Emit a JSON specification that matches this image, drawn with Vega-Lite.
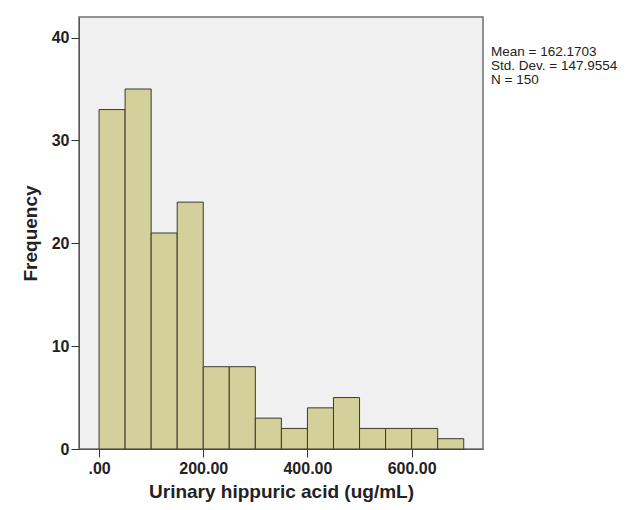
{
  "$schema": "https://vega.github.io/schema/vega-lite/v6.json",
  "autosize": "none",
  "width": 404,
  "height": 432,
  "padding": {"left": 79, "top": 17, "right": 152, "bottom": 61},
  "background": "white",
  "config": {
    "font": "Liberation Sans",
    "view": {"fill": "#f0f0f0", "stroke": "#707070", "strokeWidth": 1.5}
  },
  "layer": [
    {
      "data": {
        "values": [
          {"bin_start": 0, "bin_end": 50, "count": 33},
          {"bin_start": 50, "bin_end": 100, "count": 35},
          {"bin_start": 100, "bin_end": 150, "count": 21},
          {"bin_start": 150, "bin_end": 200, "count": 24},
          {"bin_start": 200, "bin_end": 250, "count": 8},
          {"bin_start": 250, "bin_end": 300, "count": 8},
          {"bin_start": 300, "bin_end": 350, "count": 3},
          {"bin_start": 350, "bin_end": 400, "count": 2},
          {"bin_start": 400, "bin_end": 450, "count": 4},
          {"bin_start": 450, "bin_end": 500, "count": 5},
          {"bin_start": 500, "bin_end": 550, "count": 2},
          {"bin_start": 550, "bin_end": 600, "count": 2},
          {"bin_start": 600, "bin_end": 650, "count": 2},
          {"bin_start": 650, "bin_end": 700, "count": 1}
        ]
      },
      "mark": {"type": "bar", "fill": "#d4d09b", "stroke": "#3a3a30", "strokeWidth": 1, "opacity": 1},
      "encoding": {
        "x": {
          "field": "bin_start",
          "type": "quantitative",
          "scale": {"domain": [-38.5, 737], "nice": false, "zero": false},
          "axis": {
            "values": [0, 200, 400, 600],
            "labelExpr": "datum.value == 0 ? '.00' : format(datum.value, '.2f')",
            "grid": false,
            "tickSize": 8,
            "tickColor": "#333333",
            "domainColor": "#555555",
            "labelFontSize": 16,
            "labelFontWeight": "bold",
            "labelColor": "#222222",
            "labelPadding": 3,
            "title": "Urinary hippuric acid (ug/mL)",
            "titleFontSize": 19,
            "titleFontWeight": "bold",
            "titleColor": "#222222",
            "titlePadding": 6
          }
        },
        "x2": {"field": "bin_end"},
        "y": {
          "field": "count",
          "type": "quantitative",
          "scale": {"domain": [0, 42], "nice": false},
          "axis": {
            "values": [0, 10, 20, 30, 40],
            "grid": false,
            "tickSize": 8,
            "tickColor": "#333333",
            "domainColor": "#555555",
            "labelFontSize": 16,
            "labelFontWeight": "bold",
            "labelColor": "#222222",
            "labelPadding": 2,
            "title": "Frequency",
            "titleFontSize": 19,
            "titleFontWeight": "bold",
            "titleColor": "#222222",
            "titlePadding": 11
          }
        },
        "y2": {"datum": 0}
      }
    },
    {
      "data": {"values": [{"stats": "Mean = 162.1703\nStd. Dev. = 147.9554\nN = 150"}]},
      "mark": {
        "type": "text",
        "align": "left",
        "baseline": "alphabetic",
        "dx": 8,
        "dy": 39,
        "lineBreak": "\n",
        "fontSize": 13.5,
        "lineHeight": 14,
        "color": "#222222"
      },
      "encoding": {
        "x": {"datum": 737, "type": "quantitative"},
        "y": {"datum": 42, "type": "quantitative"},
        "text": {"field": "stats"}
      }
    }
  ]
}
